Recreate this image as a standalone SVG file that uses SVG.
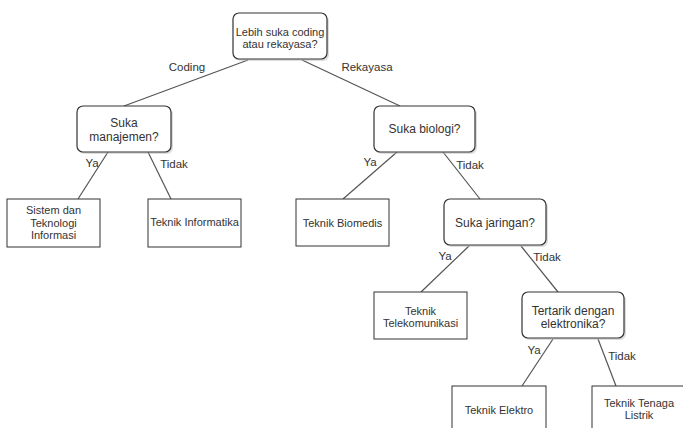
<svg xmlns="http://www.w3.org/2000/svg" width="683" height="428" viewBox="0 0 683 428">
<style>
.q{fill:#fff;stroke:#333;stroke-width:1.2}
.sh{fill:#bbb;opacity:0.5}
.r{fill:#fff;stroke:#333;stroke-width:1}
.t{font-family:"Liberation Sans",Arial,sans-serif;font-size:11px;fill:#333;text-anchor:middle}
.b{font-size:12px}
.l{font-size:11.5px}
.c line{stroke:#555;stroke-width:1.2}
</style>
<rect width="683" height="428" fill="#fff"/>
<g id="connectors" class="c">
<line x1="248" y1="60" x2="124" y2="106"/>
<line x1="302" y1="60" x2="400" y2="106"/>
<line x1="108" y1="152" x2="78" y2="199"/>
<line x1="148" y1="152" x2="171" y2="199"/>
<line x1="397" y1="152" x2="343" y2="199"/>
<line x1="443" y1="152" x2="480" y2="199"/>
<line x1="469" y1="246" x2="421" y2="292"/>
<line x1="521" y1="246" x2="558" y2="292"/>
<line x1="553" y1="339" x2="522" y2="386"/>
<line x1="598" y1="339" x2="616" y2="386"/>
<text class="t l" x="187" y="71">Coding</text>
<text class="t l" x="367" y="71">Rekayasa</text>
<text class="t l" x="92" y="167">Ya</text>
<text class="t l" x="174" y="168">Tidak</text>
<text class="t l" x="370" y="166">Ya</text>
<text class="t l" x="470" y="169">Tidak</text>
<text class="t l" x="445" y="260">Ya</text>
<text class="t l" x="547" y="261">Tidak</text>
<text class="t l" x="534" y="354">Ya</text>
<text class="t l" x="622" y="360">Tidak</text>
</g>
<g id="root">
<rect class="sh" x="235" y="15" width="94" height="46" rx="6"/>
<rect class="q" x="233" y="13" width="94" height="46" rx="6"/>
<text class="t" x="280" y="35.5">Lebih suka coding</text>
<text class="t" x="280" y="48">atau rekayasa?</text>
</g>
<g id="manajemen">
<rect class="sh" x="79" y="108" width="94" height="46" rx="6"/>
<rect class="q" x="77" y="106" width="94" height="46" rx="6"/>
<text class="t b" x="124" y="127">Suka</text>
<text class="t b" x="124" y="141">manajemen?</text>
</g>
<g id="biologi">
<rect class="sh" x="376" y="108" width="101" height="46" rx="6"/>
<rect class="q" x="374" y="106" width="101" height="46" rx="6"/>
<text class="t b" x="424.5" y="133">Suka biologi?</text>
</g>
<g id="sti">
<rect class="r" x="7" y="199" width="93" height="48"/>
<text class="t" x="53.5" y="214">Sistem dan</text>
<text class="t" x="53.5" y="226.5">Teknologi</text>
<text class="t" x="53.5" y="239">Informasi</text>
</g>
<g id="informatika">
<rect class="r" x="148" y="199" width="93" height="48"/>
<text class="t" x="194.5" y="226">Teknik Informatika</text>
</g>
<g id="biomedis">
<rect class="r" x="296" y="199" width="93" height="47"/>
<text class="t" x="342.5" y="227">Teknik Biomedis</text>
</g>
<g id="jaringan">
<rect class="sh" x="446" y="201" width="102" height="46" rx="6"/>
<rect class="q" x="444" y="199" width="102" height="46" rx="6"/>
<text class="t b" x="495" y="227">Suka jaringan?</text>
</g>
<g id="telekomunikasi">
<rect class="r" x="374" y="292" width="93" height="47"/>
<text class="t" x="420.5" y="315">Teknik</text>
<text class="t" x="420.5" y="327">Telekomunikasi</text>
</g>
<g id="elektronika">
<rect class="sh" x="524" y="294" width="102" height="46" rx="6"/>
<rect class="q" x="522" y="292" width="102" height="46" rx="6"/>
<text class="t b" x="573" y="315">Tertarik dengan</text>
<text class="t b" x="573" y="328">elektronika?</text>
</g>
<g id="elektro">
<rect class="r" x="452" y="386" width="94" height="48"/>
<text class="t" x="499" y="414">Teknik Elektro</text>
</g>
<g id="tenaga">
<rect class="r" x="592" y="386" width="94" height="48"/>
<text class="t" x="639" y="407">Teknik Tenaga</text>
<text class="t" x="639" y="419">Listrik</text>
</g>
</svg>
